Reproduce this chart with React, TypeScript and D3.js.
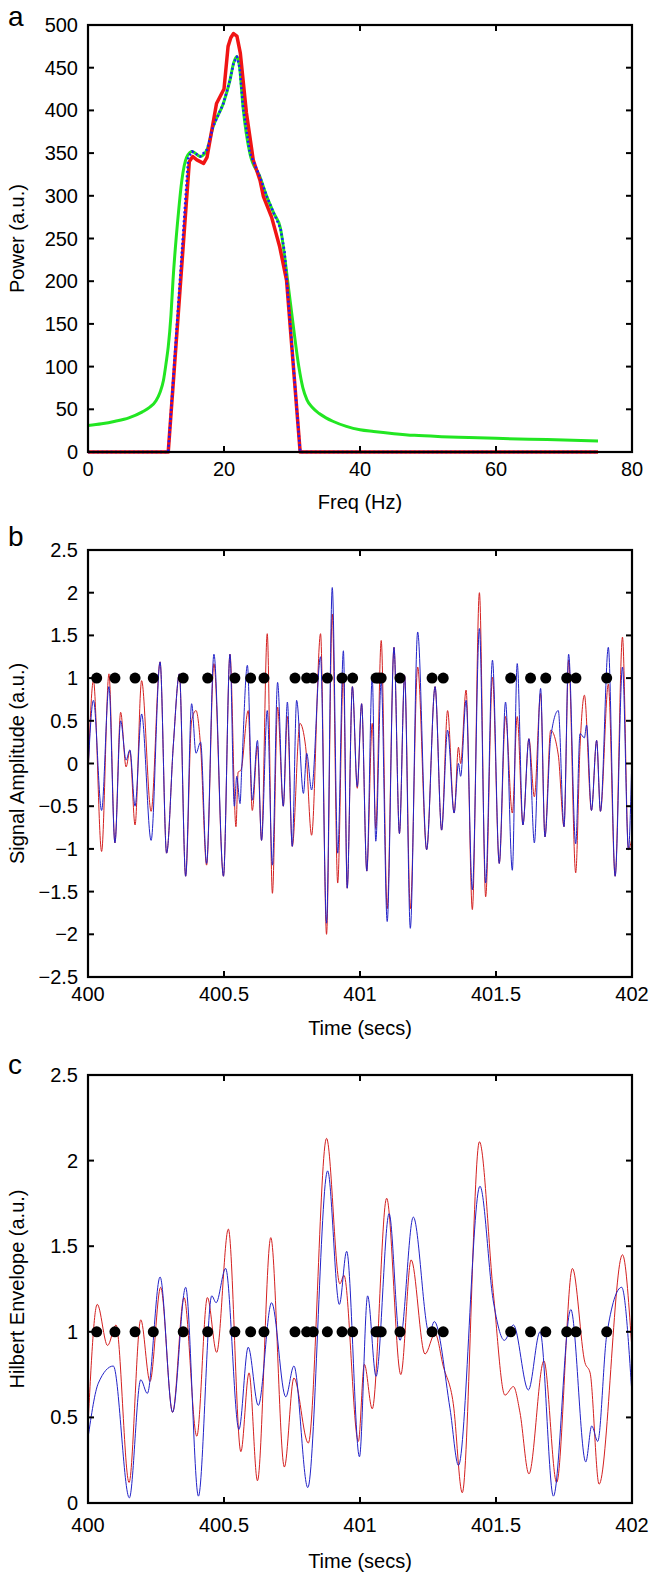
import React from "react";
import * as d3 from "d3";

const W = 652;
const H = 1575;
const FONT = "'Liberation Sans', Arial, Helvetica, sans-serif";

// ---------- Panel a: power spectra ----------
const freqGreen = [0, 2, 4, 6, 8, 9, 10, 10.6, 11.1, 11.5, 11.8, 12.2, 12.5, 13.3, 13.8, 14.5, 15.3, 16.5, 17.5, 18.4, 19.9, 20.9, 21.4, 21.9, 22.3, 22.8, 23.8, 25.3, 26.3, 27.3, 28.3, 28.9, 29.6, 30.2, 31.0, 31.6, 32.2, 33, 34, 35, 36, 38, 40, 42, 45, 48, 52, 56, 60, 65, 70, 75];
const powerGreen = [31, 33, 36, 40, 47, 52, 60, 70, 84, 105, 123, 160, 201, 280, 318, 345, 352, 346, 354, 381, 408, 436, 455, 463, 450, 404, 350, 322, 299, 280, 262, 230, 185, 147, 100, 75, 61, 52, 45, 40, 36, 30, 26, 24, 21.5, 19.5, 18, 17, 16, 15, 14, 13];

const freqBlue = [0, 11.8, 14.75, 15.3, 16.5, 17.5, 18.4, 19.9, 20.9, 21.4, 21.9, 22.3, 22.8, 23.8, 25.3, 26.3, 27.3, 28.3, 28.9, 31.2, 75];
const powerBlue = [0, 0, 345, 352, 346, 354, 381, 408, 436, 455, 463, 450, 404, 350, 322, 299, 280, 262, 235, 0, 0];

const freqRed = [0, 11.8, 14.9, 15.4, 16.0, 17.0, 17.5, 18.9, 20.0, 20.6, 21.0, 21.4, 21.9, 22.4, 23.3, 24.3, 25.3, 25.8, 27.0, 28.2, 29.2, 31.2, 75];
const powerRed = [0, 0, 340, 346, 342, 338, 345, 408, 425, 475, 485, 490, 487, 467, 397, 342, 318, 299, 275, 240, 201, 0, 0];

const ticksA_x = [0, 20, 40, 60, 80];
const ticksA_y = [0, 50, 100, 150, 200, 250, 300, 350, 400, 450, 500];

// ---------- Panel b: signal amplitude ----------
const timeSigBlue = [400.000, 400.020, 400.050, 400.077, 400.099, 400.120, 400.140, 400.154, 400.173, 400.197, 400.232, 400.265, 400.289, 400.314, 400.336, 400.359, 400.381, 400.397, 400.414, 400.436, 400.463, 400.498, 400.522, 400.538, 400.547, 400.559, 400.565, 400.586, 400.604, 400.623, 400.638, 400.659, 400.678, 400.697, 400.718, 400.733, 400.751, 400.767, 400.792, 400.804, 400.822, 400.855, 400.877, 400.898, 400.918, 400.939, 400.953, 400.972, 400.990, 401.006, 401.025, 401.045, 401.058, 401.078, 401.100, 401.125, 401.145, 401.164, 401.185, 401.212, 401.245, 401.276, 401.300, 401.322, 401.346, 401.362, 401.370, 401.390, 401.413, 401.439, 401.462, 401.487, 401.512, 401.535, 401.560, 401.578, 401.599, 401.621, 401.641, 401.664, 401.680, 401.701, 401.729, 401.750, 401.767, 401.793, 401.809, 401.825, 401.833, 401.851, 401.870, 401.884, 401.913, 401.938, 401.965, 401.987, 401.998];
const sigBlue = [-0.10, 0.74, -0.55, 0.90, -0.93, 0.50, 0.04, 0.16, -0.50, 0.58, -0.90, 1.19, -1.05, 0.23, 1.05, -1.32, 0.70, 0.12, 0.25, -1.17, 1.28, -1.32, 1.28, -0.50, -0.15, -0.47, -0.08, 1.15, -0.43, 0.27, -0.90, 0.62, -1.19, 0.95, -0.50, 0.72, -0.97, 0.74, -0.35, 0.12, -0.31, 1.25, -1.87, 2.06, -1.05, 1.32, -1.46, 0.90, -0.27, 0.70, -1.26, 1.01, -0.91, 0.97, -1.85, 1.36, -0.82, 1.03, -1.93, 1.54, -1.01, 0.90, -0.78, 0.39, -0.58, 0.00, -0.15, 0.74, -1.48, 1.58, -1.40, 1.21, -1.17, 0.72, -1.25, 1.17, -0.72, 0.29, -0.93, 0.88, -0.86, 0.30, 0.62, -0.74, 1.28, -0.94, 0.35, 0.30, 0.45, -0.55, 0.27, -0.56, 1.36, -1.32, 1.13, -1.01, -0.12];

const timeSigRed = [400.000, 400.020, 400.050, 400.077, 400.099, 400.120, 400.140, 400.154, 400.173, 400.197, 400.232, 400.265, 400.289, 400.314, 400.336, 400.359, 400.381, 400.397, 400.414, 400.436, 400.463, 400.498, 400.522, 400.544, 400.552, 400.562, 400.589, 400.604, 400.623, 400.638, 400.659, 400.678, 400.697, 400.718, 400.733, 400.751, 400.779, 400.800, 400.822, 400.855, 400.877, 400.898, 400.918, 400.939, 400.953, 400.972, 400.990, 401.006, 401.025, 401.045, 401.058, 401.078, 401.100, 401.125, 401.145, 401.164, 401.185, 401.212, 401.245, 401.276, 401.300, 401.322, 401.346, 401.362, 401.370, 401.390, 401.413, 401.439, 401.462, 401.487, 401.512, 401.535, 401.560, 401.578, 401.599, 401.621, 401.641, 401.664, 401.680, 401.701, 401.729, 401.750, 401.767, 401.793, 401.809, 401.825, 401.851, 401.870, 401.884, 401.913, 401.938, 401.965, 401.987, 401.998];
const sigRed = [-0.15, 0.97, -1.03, 1.05, -0.93, 0.60, -0.04, 0.15, -0.72, 0.97, -0.56, 1.19, -1.05, 0.23, 1.05, -1.32, 0.50, 0.62, 0.20, -1.19, 1.17, -1.32, 1.28, -0.74, -0.10, -0.08, 0.62, -0.55, 0.20, -0.90, 1.52, -1.52, 0.66, -0.50, 0.55, -0.97, 0.47, 0.20, -0.84, 1.52, -2.00, 1.75, -1.40, 1.05, -1.46, 0.90, -0.29, 0.70, -1.26, 0.47, -0.76, 1.44, -1.70, 1.36, -0.82, 1.03, -1.70, 1.13, -1.01, 0.90, -0.78, 0.62, -0.58, 0.19, 0.00, 0.86, -1.71, 2.00, -1.56, 1.01, -1.17, 0.55, -0.58, 0.55, -0.72, 0.29, -0.39, 0.82, -0.86, 0.39, 0.10, -0.74, 1.21, -1.28, 0.20, 0.80, -0.55, 0.27, -0.56, 0.93, -1.32, 1.48, -1.01, -0.90];

const ticksB_y = [-2.5, -2, -1.5, -1, -0.5, 0, 0.5, 1, 1.5, 2, 2.5];
const ticksTime = [400, 400.5, 401, 401.5, 402];

// event markers (drawn at y = 1 in panels b and c)
const eventTimes = [400.032, 400.099, 400.173, 400.240, 400.350, 400.440, 400.540, 400.598, 400.647, 400.761, 400.804, 400.828, 400.880, 400.934, 400.973, 401.059, 401.068, 401.078, 401.147, 401.265, 401.306, 401.554, 401.627, 401.683, 401.760, 401.794, 401.907];

// ---------- Panel c: Hilbert envelope ----------
const timeEnvRed = [400.000, 400.034, 400.072, 400.103, 400.151, 400.194, 400.228, 400.267, 400.311, 400.353, 400.400, 400.439, 400.473, 400.516, 400.562, 400.592, 400.623, 400.672, 400.722, 400.757, 400.810, 400.877, 400.926, 400.941, 400.994, 401.016, 401.045, 401.098, 401.150, 401.188, 401.239, 401.276, 401.306, 401.343, 401.376, 401.439, 401.490, 401.533, 401.564, 401.588, 401.621, 401.676, 401.723, 401.781, 401.827, 401.846, 401.879, 401.965, 401.998];
const envRed = [0.45, 1.16, 0.92, 1.04, 0.12, 1.07, 0.71, 1.26, 0.53, 1.20, 0.39, 1.20, 0.88, 1.60, 0.30, 0.76, 0.13, 1.55, 0.21, 0.73, 0.35, 2.13, 1.28, 1.33, 0.36, 0.81, 0.55, 1.78, 0.75, 1.42, 0.87, 0.99, 0.80, 0.58, 0.06, 2.11, 1.23, 0.63, 0.68, 0.53, 0.17, 0.83, 0.12, 1.37, 0.82, 0.76, 0.11, 1.45, 0.94];

const timeEnvBlue = [400.000, 400.038, 400.093, 400.152, 400.194, 400.218, 400.265, 400.311, 400.359, 400.406, 400.455, 400.471, 400.506, 400.555, 400.589, 400.626, 400.675, 400.727, 400.757, 400.808, 400.881, 400.924, 400.951, 400.998, 401.028, 401.059, 401.107, 401.147, 401.196, 401.255, 401.273, 401.331, 401.362, 401.441, 401.490, 401.531, 401.564, 401.619, 401.662, 401.711, 401.775, 401.830, 401.852, 401.874, 401.907, 401.962, 401.998];
const envBlue = [0.38, 0.70, 0.80, 0.03, 0.72, 0.64, 1.32, 0.53, 1.26, 0.04, 1.21, 1.17, 1.37, 0.43, 0.91, 0.57, 1.17, 0.62, 0.80, 0.09, 1.94, 1.16, 1.47, 0.27, 1.21, 0.74, 1.69, 0.95, 1.67, 0.99, 1.06, 0.55, 0.22, 1.85, 1.18, 0.95, 1.04, 0.66, 1.00, 0.04, 1.13, 0.24, 0.45, 0.36, 0.98, 1.26, 0.68];

const ticksC_y = [0, 0.5, 1, 1.5, 2, 2.5];

const zip = (xs: number[], ys: number[]) => xs.map((x, i) => [x, ys[i]] as [number, number]);

const fmt = (v: number) => {
  const s = String(v);
  return v < 0 ? "\u2212" + s.slice(1) : s;
};

type Series = { pts: [number, number][]; color: string; width: number; dash?: string; curve?: any };

function Panel(props: {
  top: number; bottom: number; left: number; right: number;
  xDomain: [number, number]; yDomain: [number, number];
  xTicks: number[]; yTicks: number[];
  xLabel: string; yLabel: string; letter: string; letterY: number;
  series: Series[]; dots?: number[]; xLabelOff: number; xTitleOff: number;
}) {
  const { top, bottom, left, right } = props;
  const x = d3.scaleLinear().domain(props.xDomain).range([left, right]);
  const y = d3.scaleLinear().domain(props.yDomain).range([bottom, top]);
  const tickLen = 6;
  const clipId = "clip-" + props.letter;
  return (
    <g>
      <defs>
        <clipPath id={clipId}>
          <rect x={left} y={top - 2} width={right - left} height={bottom - top + 4} />
        </clipPath>
      </defs>
      <g clipPath={`url(#${clipId})`}>
        {props.series.map((s, i) => {
          const gen = d3.line<[number, number]>().x(d => x(d[0])).y(d => y(d[1])).curve(s.curve || d3.curveLinear);
          return <path key={i} d={gen(s.pts) || ""} fill="none" stroke={s.color} strokeWidth={s.width} strokeDasharray={s.dash} strokeLinejoin="round" />;
        })}
      </g>
      {props.dots && props.dots.map((t, i) => (
        <circle key={i} cx={x(t)} cy={y(1)} r={5.5} fill="#000" />
      ))}
      <rect x={left} y={top} width={right - left} height={bottom - top} fill="none" stroke="#000" strokeWidth={2.2} />
      {props.xTicks.map((t, i) => (
        <g key={"xt" + i}>
          <line x1={x(t)} x2={x(t)} y1={bottom} y2={bottom - tickLen} stroke="#000" strokeWidth={2} />
          <line x1={x(t)} x2={x(t)} y1={top} y2={top + tickLen} stroke="#000" strokeWidth={2} />
          <text x={x(t)} y={bottom + props.xLabelOff} textAnchor="middle" dominantBaseline="central" fontSize={20} fontFamily={FONT}>{fmt(t)}</text>
        </g>
      ))}
      {props.yTicks.map((t, i) => (
        <g key={"yt" + i}>
          <line x1={left} x2={left + tickLen} y1={y(t)} y2={y(t)} stroke="#000" strokeWidth={2} />
          <line x1={right} x2={right - tickLen} y1={y(t)} y2={y(t)} stroke="#000" strokeWidth={2} />
          <text x={78} y={y(t)} textAnchor="end" dominantBaseline="central" fontSize={20} fontFamily={FONT}>{fmt(t)}</text>
        </g>
      ))}
      <text x={(left + right) / 2} y={bottom + props.xTitleOff} textAnchor="middle" dominantBaseline="central" fontSize={20} fontFamily={FONT}>{props.xLabel}</text>
      <text transform={`translate(17,${(top + bottom) / 2}) rotate(-90)`} textAnchor="middle" dominantBaseline="central" fontSize={20} fontFamily={FONT}>{props.yLabel}</text>
      <text x={8} y={props.letterY} fontSize={28} fontFamily={FONT}>{props.letter}</text>
    </g>
  );
}

export default function App() {
  const L = 88, R = 632;
  return (
    <svg width={W} height={H} style={{ position: "absolute", left: 0, top: 0, background: "#fff" }}>
      <rect width={W} height={H} fill="#fff" />
      <Panel top={25} bottom={452} left={L} right={R} xDomain={[0, 80]} yDomain={[0, 500]}
        xTicks={ticksA_x} yTicks={ticksA_y} xLabel="Freq (Hz)" yLabel="Power (a.u.)" letter="a" letterY={26}
        xLabelOff={17} xTitleOff={50}
        series={[
          { pts: zip(freqGreen, powerGreen), color: "#22e622", width: 3, curve: d3.curveMonotoneX },
          { pts: zip(freqRed, powerRed), color: "#f01414", width: 3.5 },
          { pts: zip(freqBlue, powerBlue), color: "#1a1aff", width: 2.5, dash: "2,2.5" },
        ]} />
      <Panel top={550} bottom={977} left={L} right={R} xDomain={[400, 402]} yDomain={[-2.5, 2.5]}
        xTicks={ticksTime} yTicks={ticksB_y} xLabel="Time (secs)" yLabel="Signal Amplitude (a.u.)" letter="b" letterY={546}
        xLabelOff={17} xTitleOff={51} dots={eventTimes}
        series={[
          { pts: zip(timeSigRed, sigRed), color: "#d42020", width: 1, curve: d3.curveMonotoneX },
          { pts: zip(timeSigBlue, sigBlue), color: "#2222c8", width: 1, curve: d3.curveMonotoneX },
        ]} />
      <Panel top={1075} bottom={1503} left={L} right={R} xDomain={[400, 402]} yDomain={[0, 2.5]}
        xTicks={ticksTime} yTicks={ticksC_y} xLabel="Time (secs)" yLabel="Hilbert Envelope (a.u.)" letter="c" letterY={1074}
        xLabelOff={22} xTitleOff={58} dots={eventTimes}
        series={[
          { pts: zip(timeEnvRed, envRed), color: "#d42020", width: 1, curve: d3.curveMonotoneX },
          { pts: zip(timeEnvBlue, envBlue), color: "#2222c8", width: 1, curve: d3.curveMonotoneX },
        ]} />
    </svg>
  );
}
